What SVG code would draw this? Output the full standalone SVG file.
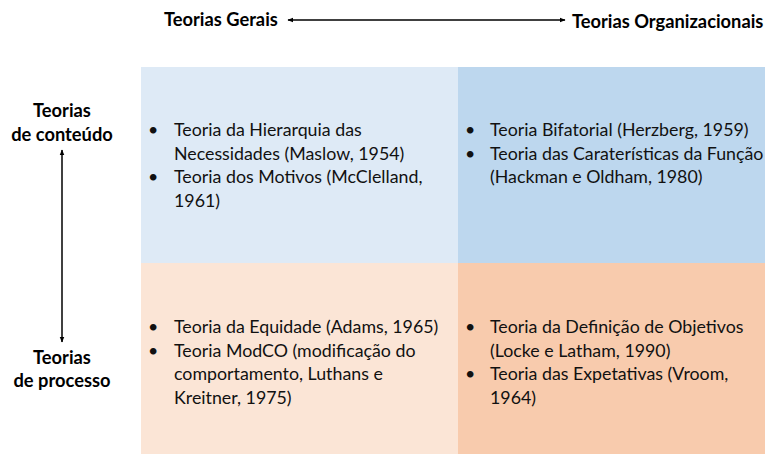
<svg xmlns="http://www.w3.org/2000/svg" width="765" height="454" viewBox="0 0 765 454">
<defs>
<marker id="ah" viewBox="0 0 10 10" refX="9" refY="5" markerWidth="4" markerHeight="4" orient="auto-start-reverse"><path d="M0,1 L10,5 L0,9 z" fill="#000"/></marker>
<style>
.h{font-family:Lato,"Liberation Sans",sans-serif;font-size:18.3px;font-weight:bold;fill:#000}
.t{font-family:Lato,"Liberation Sans",sans-serif;font-size:17.8px;fill:#111}
.l{stroke:#000;stroke-width:1.5;fill:none}
</style>
</defs>
<rect width="765" height="454" fill="#fff"/>
<g id="q-tl"><rect x="141" y="67" width="317" height="196" fill="#DEEAF6"/>
<text class="t"><tspan x="148" y="136">•</tspan><tspan x="174" y="136">Teoria da Hierarquia das</tspan><tspan x="174" y="159.5">Necessidades (Maslow, 1954)</tspan><tspan x="148" y="183">•</tspan><tspan x="174" y="183">Teoria dos Motivos (McClelland,</tspan><tspan x="174" y="206.5">1961)</tspan></text></g>
<g id="q-tr"><rect x="458" y="67" width="307" height="196" fill="#BDD7EE"/>
<text class="t"><tspan x="465" y="136">•</tspan><tspan x="490" y="136">Teoria Bifatorial (Herzberg, 1959)</tspan><tspan x="465" y="159.5">•</tspan><tspan x="490" y="159.5">Teoria das Caraterísticas da Função</tspan><tspan x="490" y="183">(Hackman e Oldham, 1980)</tspan></text></g>
<g id="q-bl"><rect x="141" y="263" width="317" height="191" fill="#FBE5D6"/>
<text class="t"><tspan x="148" y="333">•</tspan><tspan x="174" y="333">Teoria da Equidade (Adams, 1965)</tspan><tspan x="148" y="356.5">•</tspan><tspan x="174" y="356.5">Teoria ModCO (modificação do</tspan><tspan x="174" y="380">comportamento, Luthans e</tspan><tspan x="174" y="403.5">Kreitner, 1975)</tspan></text></g>
<g id="q-br"><rect x="458" y="263" width="307" height="191" fill="#F8CBAD"/>
<text class="t"><tspan x="465" y="333">•</tspan><tspan x="490" y="333">Teoria da Definição de Objetivos</tspan><tspan x="490" y="356.5">(Locke e Latham, 1990)</tspan><tspan x="465" y="380">•</tspan><tspan x="490" y="380">Teoria das Expetativas (Vroom,</tspan><tspan x="490" y="403.5">1964)</tspan></text></g>
<g id="lbl-gerais"><text class="h" x="164" y="26">Teorias Gerais</text></g>
<g id="lbl-org"><text class="h" x="572" y="28">Teorias Organizacionais</text></g>
<g id="lbl-conteudo"><text class="h" text-anchor="middle"><tspan x="62" y="117">Teorias</tspan><tspan x="62" y="141">de conteúdo</tspan></text></g>
<g id="lbl-processo"><text class="h" text-anchor="middle"><tspan x="62" y="364">Teorias</tspan><tspan x="62" y="387">de processo</tspan></text></g>
<g id="connectors">
<line class="l" x1="288" y1="20" x2="565" y2="20" marker-start="url(#ah)" marker-end="url(#ah)"/>
<line class="l" x1="62" y1="150" x2="62" y2="342" marker-start="url(#ah)" marker-end="url(#ah)"/>
</g>
</svg>
